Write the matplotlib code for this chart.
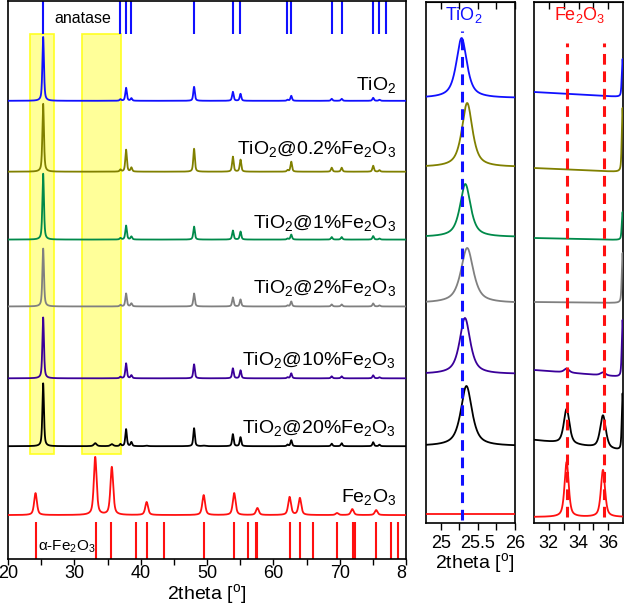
import numpy as np
import matplotlib
matplotlib.use("Agg")
import matplotlib.pyplot as plt
from matplotlib.patches import Rectangle

plt.rcParams['font.family'] = ['Liberation Sans', 'DejaVu Sans']
plt.rcParams['mathtext.fontset'] = 'custom'
plt.rcParams['mathtext.rm'] = 'Liberation Sans'
plt.rcParams['mathtext.it'] = 'Liberation Sans:italic'
plt.rcParams['mathtext.bf'] = 'Liberation Sans:bold'

# ---------------- data ----------------
labels = ["TiO$_2$", "TiO$_2$@0.2%Fe$_2$O$_3$", "TiO$_2$@1%Fe$_2$O$_3$",
          "TiO$_2$@2%Fe$_2$O$_3$", "TiO$_2$@10%Fe$_2$O$_3$",
          "TiO$_2$@20%Fe$_2$O$_3$", "Fe$_2$O$_3$"]
colors = ["#1010ff", "#808000", "#008a4a", "#808080", "#3a0099", "#000000", "#ff1010"]

# left panel (full pattern), offsets in arbitrary units
offsets_full = [459, 388, 320, 253, 181, 113, 44]
label_y_full = [470, 406, 332, 266, 194, 126, 57]

anatase_pos = [25.3, 36.95, 37.8, 38.6, 48.05, 53.9, 55.05, 62.15, 62.7, 68.8, 70.3, 75.05, 76.0]
anatase_heights = [
    [64, 1.5, 13, 2.5, 14, 9, 7, 1, 5, 2, 2, 3, 1],
    [68, 2, 22, 4, 23, 15, 12, 1.5, 10, 4, 4, 6, 1.5],
    [66, 1.5, 14, 3, 13, 9, 8, 1, 5, 2.5, 2.5, 3.5, 1],
    [58, 1.5, 13, 3, 13, 9, 7, 1, 5, 2, 2, 3, 1],
    [61, 1.5, 15, 3, 14, 10, 8, 1, 5, 2, 2, 3, 1],
    [63, 2, 17, 4, 18, 12, 9, 1.5, 6, 2.5, 3, 4, 1.5],
]
anatase_fwhm = 0.28

hematite_pos = [24.15, 33.15, 35.65, 40.9, 49.5, 54.1, 57.6, 62.45, 64.0, 69.6, 71.9, 75.5]
hematite_heights = [22, 58, 48, 13, 20, 22, 7, 18, 17, 2, 6, 5]
hematite_fwhm = 0.5
# weak hematite contribution in 20 % sample
hematite_in_20 = [0, 3, 2, 0.5, 0.5, 0, 0, 0, 0, 0, 0, 0]

anatase_ref = [25.3, 36.95, 37.8, 38.6, 48.05, 53.9, 55.05, 62.1, 62.7, 68.8, 70.35,
               75.05, 75.95, 76.95]
hematite_ref = [24.15, 33.2, 35.6, 39.3, 40.9, 43.55, 49.5, 54.1, 56.2, 57.4, 57.6,
                62.45, 64.0, 66.0, 69.6, 71.95, 72.3, 75.45, 77.8, 78.85]

# middle panel: anatase (101) peak
mid_base = [425, 356, 286, 220, 149, 77, 9]
mid_center = [25.28, 25.355, 25.33, 25.355, 25.325, 25.345, 25.3]
mid_height = [60, 64, 53, 55, 56, 60, 0]
mid_fwhm = [0.17, 0.17, 0.17, 0.20, 0.17, 0.18, 0.2]

# right panel: hematite (104)/(110) region
right_base_left = [431, 355, 285, 221, 153, 83, 6]
right_base_right = [426, 351, 283, 220, 146, 72, 6]
right_p1 = [0, 0, 0, 0, 4, 35, 55]      # 33.2
right_p2 = [0, 0, 0, 0, 3, 33, 47]      # 35.65
right_edge = [38, 64, 28, 50, 57, 57, 0]  # anatase ~37 peak rising at edge
right_fwhm = [0.4, 0.4, 0.4, 0.4, 0.4, 0.45, 0.33]


def pv(x, c, h, w, eta=0.6):
    g = np.exp(-4 * np.log(2) * ((x - c) / w) ** 2)
    lz = 1.0 / (1 + 4 * ((x - c) / w) ** 2)
    return h * (eta * lz + (1 - eta) * g)


# ---------------- figure ----------------
fig = plt.figure(figsize=(6.25, 6.06), dpi=100)
W, H = 625, 606
axL = fig.add_axes([8 / W, (H - 559) / H, 398 / W, 558 / H])
axM = fig.add_axes([426 / W, (H - 523) / H, 89 / W, 521 / H])
axR = fig.add_axes([534 / W, (H - 523) / H, 89 / W, 521 / H])

x = np.linspace(20, 80, 6001)
for i in range(6):
    y = np.full_like(x, offsets_full[i], dtype=float)
    for p, h in zip(anatase_pos, anatase_heights[i]):
        y += pv(x, p, h, anatase_fwhm)
    if i == 5:
        for p, h in zip(hematite_pos, hematite_in_20):
            y += pv(x, p, h, hematite_fwhm)
    axL.plot(x, y, color=colors[i], lw=1.3, zorder=3)
y = np.full_like(x, offsets_full[6], dtype=float)
for p, h in zip(hematite_pos, hematite_heights):
    y += pv(x, p, h, hematite_fwhm)
axL.plot(x, y, color=colors[6], lw=1.3, zorder=3)

for i, lab in enumerate(labels):
    axL.text(78.5, label_y_full[i], lab, ha='right', va='baseline', fontsize=14)

# yellow highlight boxes
for x0, x1 in [(23.3, 27.0), (31.1, 37.0)]:
    axL.add_patch(Rectangle((x0, 105), x1 - x0, 421, facecolor='#ffff99',
                            edgecolor='#ffff22', lw=1.2, zorder=1))

axL.vlines(anatase_ref, 526, 559, color='#1010ff', lw=1.5, zorder=2)
axL.vlines(hematite_ref, 0, 37, color='#ff1010', lw=1.5, zorder=2)
axL.text(31.3, 541, "anatase", ha='center', va='center', fontsize=11.5)
axL.text(24.5, 12, "α-Fe$_2$O$_3$", ha='left', va='center', fontsize=11)

axL.set_xlim(20, 80)
axL.set_ylim(0, 559)
axL.set_yticks([])
axL.set_xticks([20, 30, 40, 50, 60, 70, 80])
axL.set_xticklabels(['20', '30', '40', '50', '60', '70', '8'])
axL.set_xticks([25, 35, 45, 55, 65, 75], minor=True)
axL.tick_params(axis='x', which='both', direction='out', length=4, width=1,
                labelsize=13, pad=0.5)
axL.get_xticklabels()[-1].set_ha('right')
axL.set_xlabel("2theta [$^\\mathrm{o}$]", fontsize=14, labelpad=-0.5)

# middle panel
xm = np.linspace(24.8, 26, 1201)
for i in range(7):
    ym = mid_base[i] + pv(xm, mid_center[i], mid_height[i], mid_fwhm[i], eta=0.75)
    axM.plot(xm, ym, color=colors[i], lw=1.3, zorder=3)
axM.vlines(25.28, 3, 492, colors='#1010ff', linestyles=(0, (3.5, 2.2)), lw=2.2, zorder=4)
axM.text(25.31, 508, "TiO$_2$", color='#1010ff', ha='center', va='center', fontsize=13)
axM.set_xlim(24.8, 26)
axM.set_ylim(0, 521)
axM.set_yticks([])
axM.set_xticks([25, 25.5, 26])
axM.set_xticklabels(['25', '25.5', '26'])
axM.set_xticks([25.25, 25.75], minor=True)

# right panel
xr = np.linspace(31, 37, 2401)
for i in range(7):
    base = np.linspace(right_base_left[i], right_base_right[i], xr.size)
    yr = (base + pv(xr, 33.2, right_p1[i], right_fwhm[i])
          + pv(xr, 35.65, right_p2[i], right_fwhm[i])
          + pv(xr, 36.97, right_edge[i], 0.12, eta=0.5))
    axR.plot(xr, yr, color=colors[i], lw=1.3, zorder=3)
axR.vlines([33.22, 35.72], 6, 480, colors='#ff1010', linestyles=(0, (3.5, 2.2)), lw=2.2, zorder=4)
axR.text(34.1, 508, "Fe$_2$O$_3$", color='#ff1010', ha='center', va='center', fontsize=13)
axR.set_xlim(31, 37)
axR.set_ylim(0, 521)
axR.set_yticks([])
axR.set_xticks([32, 34, 36])
axR.set_xticks([33, 35], minor=True)

for ax in (axM, axR):
    ax.tick_params(axis='x', which='both', direction='out', length=5, width=1,
                   labelsize=13, top=False)
    sec = ax.secondary_xaxis('top')
    sec.set_xticks(ax.get_xticks())
    sec.set_xticks(ax.get_xticks(minor=True), minor=True)
    sec.tick_params(axis='x', which='both', direction='in', length=5, width=1,
                    labeltop=False)

fig.text(475 / W, 1 - 563 / H, "2theta [$^\\mathrm{o}$]", ha='center', va='center', fontsize=14)

for ax in (axL, axM, axR):
    for s in ax.spines.values():
        s.set_linewidth(1.2)

fig.savefig("out.png", dpi=100)
